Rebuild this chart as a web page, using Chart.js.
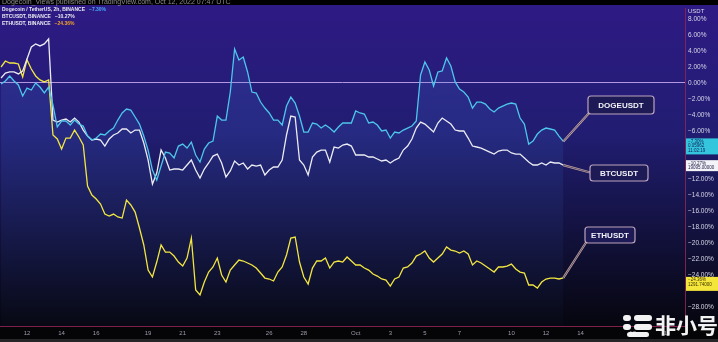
<!DOCTYPE html>
<html><head><meta charset="utf-8">
<script src="https://cdn.jsdelivr.net/npm/chart.js@4.4.0/dist/chart.umd.min.js"></script>
<style>html,body{margin:0;padding:0;background:#000;overflow:hidden}#wrap{width:718px;height:342px;position:relative}canvas{display:block}</style>
</head><body><div id="wrap"><canvas id="c" width="718" height="342"></canvas></div>
<script>
// time axis: days counted from Sep 1 (Sep 12 = 12, Oct 1 = 31); one value every 6 hours from Sep 10 12:00
const START_DAY = 10.5;
const STEP_DAYS = 0.25;

// % change vs. reference price
const dogeChange = [-0.13,0.25,0.88,0.25,-0.25,-1.63,-0.63,-0.88,0,-0.5,
-1.25,-0.5,-2.75,-5.5,-4.75,-4.75,-5.25,-4.63,-5.13,-5.38,
-6.63,-7.13,-6.88,-6.38,-6.5,-6.0,-5.63,-4.63,-3.75,-3.25,
-3.38,-4.25,-5.13,-6.63,-8.38,-10.88,-12.13,-10.38,-8.63,-8.75,
-9.38,-7.88,-7.63,-8.13,-7.38,-9.0,-9.88,-8.25,-7.5,-7.25,
-4.13,-4.63,-4.63,-1.13,4.25,2.88,3.25,1.38,-1.13,-1.25,
-2.38,-3.13,-3.75,-4.63,-4.63,-5.25,-2.88,-1.75,-2.5,-4.13,
-6.13,-6.13,-5.0,-5.13,-5.63,-5.25,-5.63,-6.13,-5.5,-5.0,
-5.0,-5.0,-3.5,-3.75,-3.88,-5.0,-4.88,-5.25,-6.0,-5.88,
-6.88,-6.13,-6.25,-5.88,-5.63,-5.38,-4.75,1.0,2.63,1.63,
-0.38,1.38,1.5,3.13,2.13,0.13,-0.75,-1.13,-1.75,-3.13,
-2.38,-2.38,-2.63,-3.25,-3.63,-3.13,-2.88,-2.63,-2.5,-2.63,
-4.38,-5.13,-7.63,-7.25,-6.38,-5.88,-5.63,-5.75,-5.88,-6.63,-7.30];

const btcChange = [0.63,1.25,1.38,1.38,1.13,1.5,3.0,4.5,4.88,4.63,
4.88,5.5,-4.63,-4.88,-4.63,-4.5,-4.88,-4.38,-4.88,-5.88,
-6.63,-7.13,-7.0,-7.13,-7.88,-7.0,-6.5,-6.25,-5.75,-5.75,
-6.25,-5.88,-5.88,-7.5,-9.63,-12.63,-11.25,-8.38,-9.38,-10.88,
-10.75,-10.75,-10.88,-10.25,-9.63,-10.88,-11.88,-10.75,-10.0,-9.13,
-8.88,-10.0,-11.75,-11.0,-9.75,-10.25,-10.0,-10.75,-10.25,-10.38,
-10.25,-11.5,-10.88,-10.5,-10.5,-9.63,-6.5,-4.13,-4.25,-9.63,
-10.25,-11.5,-9.25,-8.63,-8.38,-8.38,-9.88,-8.0,-8.13,-7.75,
-7.63,-7.88,-9.0,-9.0,-9.0,-9.25,-9.25,-9.5,-9.75,-9.63,
-10.0,-9.63,-9.38,-8.38,-7.88,-7.0,-5.63,-4.88,-5.13,-5.63,
-6.13,-5.0,-4.38,-4.75,-5.13,-5.88,-6.0,-6.0,-6.88,-7.88,
-8.0,-8.13,-8.38,-8.63,-8.88,-8.5,-8.38,-8.38,-8.75,-8.88,
-8.88,-9.38,-9.88,-10.25,-10.25,-10.0,-10.25,-9.88,-10.0,-10.0,-10.27];

const ethChange = [2.0,2.75,2.5,2.5,2.38,0.75,2.88,1.75,0.88,0.38,
0.13,0.38,-6.5,-7.0,-8.25,-6.88,-6.88,-5.88,-6.75,-7.75,
-12.88,-14.0,-14.5,-15.13,-16.38,-16.63,-16.38,-16.75,-16.88,-14.63,
-15.25,-16.13,-18.13,-20.25,-23.38,-24.25,-22.38,-20.25,-21.13,-21.13,
-21.63,-22.38,-22.88,-21.88,-19.38,-25.88,-26.5,-24.88,-23.63,-23.0,
-21.88,-24.0,-24.88,-23.38,-22.75,-22.13,-22.25,-22.5,-22.75,-23.13,
-23.75,-24.38,-24.5,-24.75,-23.63,-23.0,-21.5,-19.38,-19.25,-22.38,
-24.25,-25.13,-23.13,-22.25,-22.25,-21.88,-23.13,-22.38,-22.25,-22.38,
-21.75,-22.25,-22.75,-22.75,-23.13,-23.38,-23.88,-24.13,-24.5,-24.63,
-25.38,-24.5,-24.25,-23.13,-23.0,-22.5,-21.63,-21.38,-21.0,-21.88,
-22.38,-21.88,-21.38,-20.5,-20.88,-21.0,-21.25,-21.0,-21.38,-22.75,
-22.25,-22.5,-22.88,-23.25,-23.63,-23.0,-23.0,-22.88,-22.63,-23.25,
-23.63,-23.75,-25.25,-25.25,-25.63,-24.88,-24.5,-24.38,-24.38,-24.5,-24.36];

const seriesNames = ['DOGEUSDT','BTCUSDT','ETHUSDT'];
const legendTitles = ['Dogecoin / TetherUS, 2h, BINANCE','BTCUSDT, BINANCE','ETHUSDT, BINANCE'];
const lastPrices = ['0.05962','19095.00000','1291.74000'];

const xTickDays = [12,14,16,19,21,23,26,28,31,33,35,37,40,42,44,47,49];
const xTickLabels = ['12','14','16','19','21','23','26','28','Oct','3','5','7','10','12','14','17','19'];
const yTickValues = [8,6,4,2,0,-2,-4,-6,-8,-10,-12,-14,-16,-18,-20,-22,-24,-26,-28];
const yTicksHidden = [-8,-10,-26];

const fmtPct = v => (v < 0 ? '\u2212' : '') + Math.abs(v).toFixed(2) + '%';
const toPoints = arr => arr.map((v, i) => ({x: START_DAY + i * STEP_DAYS, y: v}));

const FONT = '"Liberation Sans", Arial, sans-serif';

const bgPlugin = {
  id: 'bg',
  beforeDraw(chart) {
    const {ctx, width, height, chartArea: ca} = chart;
    ctx.save();
    ctx.fillStyle = '#000';
    ctx.fillRect(0, 0, width, height);
    const g = ctx.createLinearGradient(0, 5, 0, ca.bottom);
    g.addColorStop(0, '#2e1a84');
    g.addColorStop(0.4, '#211d72');
    g.addColorStop(0.72, '#12113c');
    g.addColorStop(1, '#06060f');
    ctx.fillStyle = g;
    ctx.fillRect(0, 5, width, ca.bottom - 5);
    ctx.fillStyle = '#050507';
    ctx.fillRect(0, ca.bottom, width, height - ca.bottom);
    ctx.fillStyle = '#262628';
    ctx.fillRect(0, height - 3, width, 3);
    ctx.restore();
  }
};

function roundRect(ctx, x, y, w, h, r) {
  ctx.beginPath();
  ctx.moveTo(x + r, y);
  ctx.lineTo(x + w - r, y);
  ctx.quadraticCurveTo(x + w, y, x + w, y + r);
  ctx.lineTo(x + w, y + h - r);
  ctx.quadraticCurveTo(x + w, y + h, x + w - r, y + h);
  ctx.lineTo(x + r, y + h);
  ctx.quadraticCurveTo(x, y + h, x, y + h - r);
  ctx.lineTo(x, y + r);
  ctx.quadraticCurveTo(x, y, x + r, y);
  ctx.closePath();
}

const overlayPlugin = {
  id: 'overlay',
  afterDraw(chart) {
    const {ctx} = chart;
    const xs = chart.scales.x, ys = chart.scales.y;
    const all = [dogeChange, btcChange, ethChange];
    ctx.save();
    ctx.fillStyle = '#000';
    ctx.fillRect(0, 0, 718, 5);
    ctx.font = '7px ' + FONT;
    ctx.fillStyle = '#8a8a8a';
    ctx.textBaseline = 'alphabetic';
    ctx.fillText('Dogecoin_Views published on TradingView.com, Oct 12, 2022 07:47 UTC', 2, 4);

    ctx.font = 'bold 5px ' + FONT;
    ctx.textBaseline = 'middle';
    const legCols = ['#4aa8ff', '#e8e8f0', '#f0a02a'];
    const legY = [10, 17, 24];
    legendTitles.forEach((t, i) => {
      ctx.fillStyle = '#e8e8f0';
      ctx.fillText(t, 2, legY[i]);
      const w = ctx.measureText(t).width;
      ctx.fillStyle = legCols[i];
      ctx.fillText(fmtPct(all[i][all[i].length - 1]), 2 + w + 4, legY[i]);
    });

    ctx.font = '6px ' + FONT;
    ctx.fillStyle = '#d8d8ea';
    ctx.fillText('USDT', 688, 11);

    const callouts = [
      {bx: 588, by: 96, bw: 66, bh: 18},
      {bx: 590, by: 165, bw: 58, bh: 16},
      {bx: 585, by: 227, bw: 50, bh: 16}
    ];
    const lastDay = START_DAY + (dogeChange.length - 1) * STEP_DAYS;
    all.forEach((arr, i) => {
      const px = xs.getPixelForValue(lastDay);
      const py = ys.getPixelForValue(arr[arr.length - 1]);
      const c = callouts[i];
      const tx = c.bx + 2, ty = (py < c.by) ? c.by + 2 : (py > c.by + c.bh ? c.by + c.bh - 2 : c.by + c.bh / 2);
      ctx.strokeStyle = 'rgba(205,175,160,0.95)';
      ctx.lineWidth = 2.2;
      ctx.beginPath(); ctx.moveTo(px, py); ctx.lineTo(tx, ty); ctx.stroke();
      ctx.strokeStyle = 'rgba(40,30,90,0.9)';
      ctx.lineWidth = 0.7;
      ctx.beginPath(); ctx.moveTo(px, py); ctx.lineTo(tx, ty); ctx.stroke();
      roundRect(ctx, c.bx, c.by, c.bw, c.bh, 3);
      ctx.fillStyle = '#1d1a55';
      ctx.fill();
      ctx.strokeStyle = 'rgba(205,180,200,0.9)';
      ctx.lineWidth = 1.2;
      ctx.stroke();
      ctx.fillStyle = '#f2f2f8';
      ctx.font = 'bold 8px ' + FONT;
      ctx.textAlign = 'center';
      ctx.fillText(seriesNames[i], c.bx + c.bw / 2, c.by + c.bh / 2 + 0.5);
      ctx.textAlign = 'left';
    });

    const boxes = [
      {bg: '#34c6dc', fg: '#10205a', h: 16, off: -3},
      {bg: '#f4f4f8', fg: '#20204a', h: 11, off: -5},
      {bg: '#f5e63c', fg: '#3a3000', h: 14, off: -1}
    ];
    all.forEach((arr, i) => {
      const v = arr[arr.length - 1];
      const py = ys.getPixelForValue(v);
      const b = boxes[i];
      const top = py + b.off;
      ctx.fillStyle = b.bg;
      ctx.fillRect(686, top, 32, b.h);
      ctx.fillStyle = b.fg;
      ctx.font = '4.5px ' + FONT;
      ctx.textBaseline = 'top';
      ctx.fillText(fmtPct(v), 688, top + 1);
      ctx.fillText(lastPrices[i], 688, top + 5.5);
      if (b.h > 14) ctx.fillText('11:02:19', 688, top + 10);
    });

    ctx.fillStyle = 'rgba(255,255,255,0.95)';
    roundRect(ctx, 623, 315, 8, 6, 3); ctx.fill();
    roundRect(ctx, 634, 315, 18, 6, 3); ctx.fill();
    roundRect(ctx, 623, 324, 8, 6, 3); ctx.fill();
    roundRect(ctx, 634, 324, 18, 6, 3); ctx.fill();
    roundRect(ctx, 627, 332, 22, 5, 2.5); ctx.fill();
    ctx.font = 'bold 21px "Noto Sans CJK SC", sans-serif';
    ctx.textBaseline = 'middle';
    ctx.fillText('非小号', 655, 325);
    ctx.restore();
  }
};

new Chart(document.getElementById('c'), {
  type: 'line',
  data: {
    datasets: [
      {label: seriesNames[0], data: toPoints(dogeChange), borderColor: '#4cc6ea', borderWidth: 1.3,
        fill: 'start',
        backgroundColor: c => {
          const ca = c.chart.chartArea;
          if (!ca) return 'transparent';
          const g = c.chart.ctx.createLinearGradient(0, ca.top, 0, ca.bottom);
          g.addColorStop(0, 'rgba(70,130,235,0.20)');
          g.addColorStop(1, 'rgba(70,130,235,0.02)');
          return g;
        }},
      {label: seriesNames[1], data: toPoints(btcChange), borderColor: '#ececf4', borderWidth: 1.3, fill: false},
      {label: seriesNames[2], data: toPoints(ethChange), borderColor: '#f2e640', borderWidth: 1.3, fill: false}
    ]
  },
  options: {
    responsive: false,
    devicePixelRatio: 1,
    animation: false,
    layout: {padding: {top: 8, left: 0, right: 0, bottom: 0}},
    elements: {point: {radius: 0}, line: {tension: 0}},
    plugins: {legend: {display: false}, tooltip: {enabled: false}, filler: {drawTime: 'beforeDatasetsDraw'}},
    scales: {
      x: {
        type: 'linear', min: 10.439, max: 50.034,
        afterBuildTicks: s => { s.ticks = xTickDays.map(d => ({value: d})); },
        afterFit: s => { s.height = 16; },
        grid: {color: 'transparent', drawTicks: false},
        border: {display: true, color: 'rgba(140,35,85,0.9)', width: 1},
        ticks: {autoSkip: false, maxRotation: 0, padding: 4, color: '#9c9cab',
          font: {size: 6, family: FONT},
          callback: v => { const k = xTickDays.indexOf(v); return k >= 0 ? xTickLabels[k] : ''; }}
      },
      y: {
        position: 'right', min: -30.375, max: 9.375,
        afterBuildTicks: s => { s.ticks = yTickValues.map(v => ({value: v})); },
        afterFit: s => { s.width = 33; },
        grid: {drawTicks: false, lineWidth: 1,
          color: c => (c.tick && c.tick.value === 0) ? 'rgba(195,165,235,0.9)' : 'transparent'},
        border: {display: true, color: 'rgba(140,35,85,0.9)', width: 1},
        ticks: {padding: 3, color: '#d6d6e8', font: {size: 6.5, family: FONT},
          callback: v => yTicksHidden.includes(v) ? '' : fmtPct(v)}
      }
    }
  },
  plugins: [bgPlugin, overlayPlugin]
});
</script>
</body></html>
